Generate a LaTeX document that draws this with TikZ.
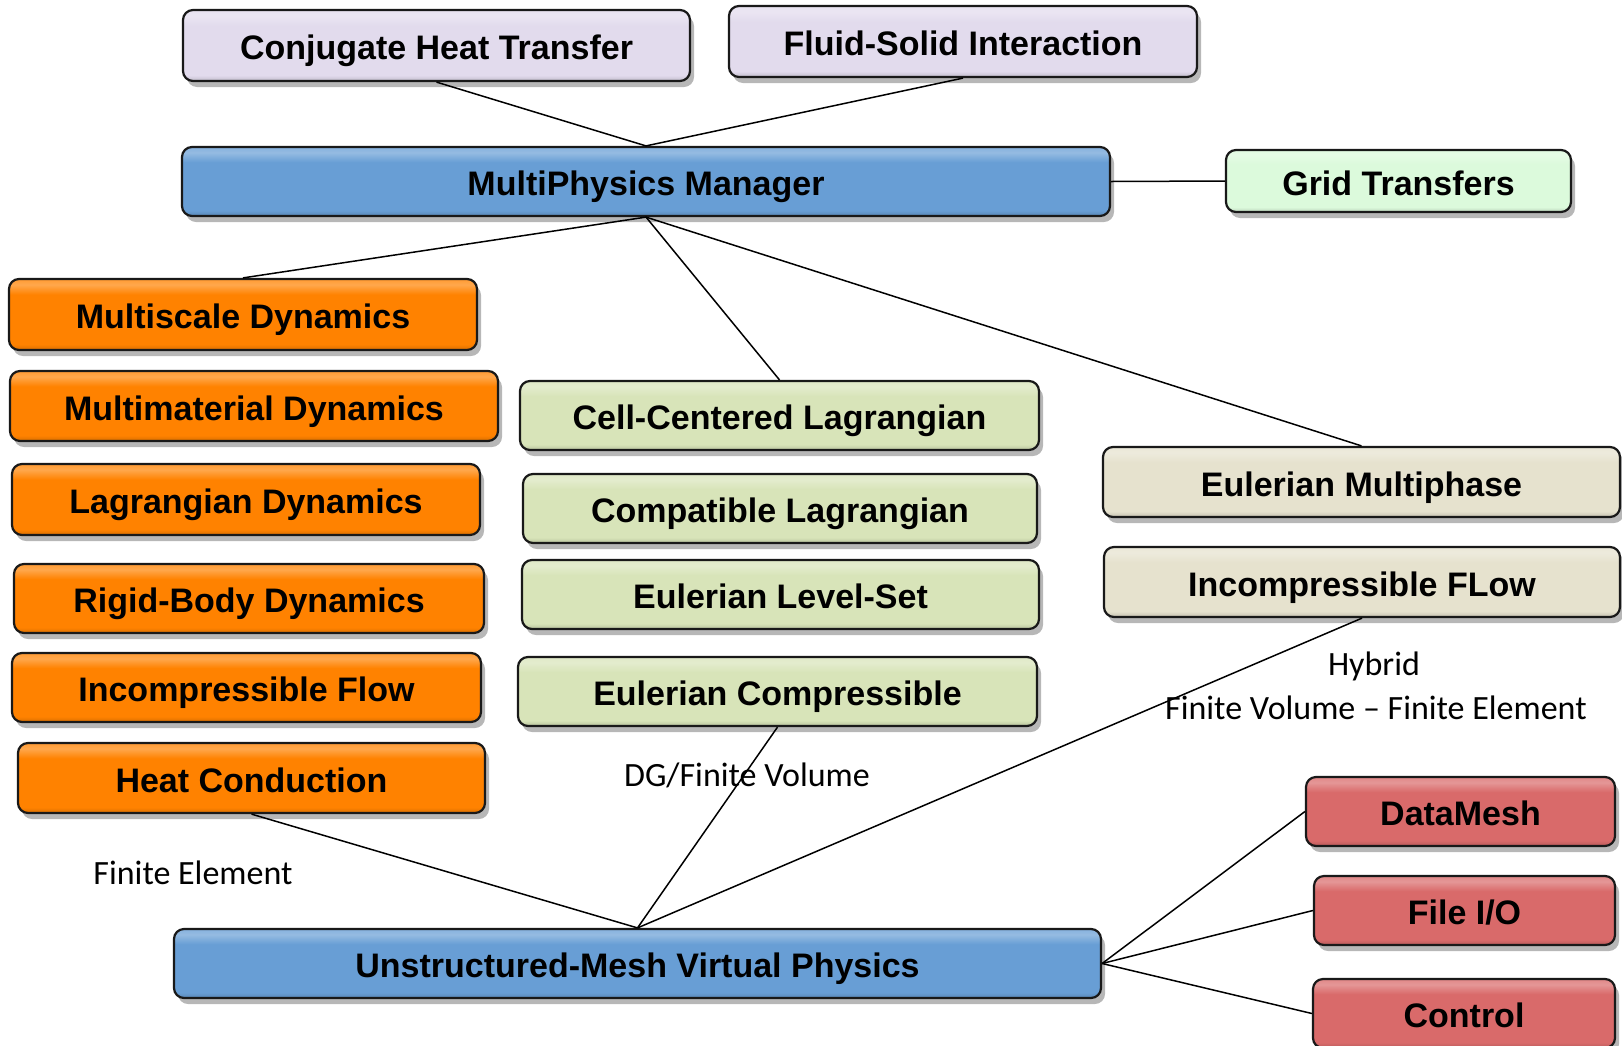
\documentclass[tikz,border=0pt]{standalone}
\usepackage{fontspec}
\setmainfont{Liberation Sans}
\newfontfamily\lblfont{Carlito}
\usetikzlibrary{shadows}
\definecolor{cblue}{RGB}{104,158,213}
\definecolor{corange}{RGB}{255,130,0}
\definecolor{clav}{RGB}{226,219,237}
\definecolor{cmint}{RGB}{220,250,220}
\definecolor{cygreen}{RGB}{216,228,185}
\definecolor{cbeige}{RGB}{230,226,206}
\definecolor{cred}{RGB}{217,106,106}
\colorlet{boxmain}{cblue}
\pgfdeclareverticalshading[boxmain]{gloss}{100bp}{%
color(0bp)=(boxmain!85!black);
color(25bp)=(boxmain!85!black);
color(29bp)=(boxmain);
color(64bp)=(boxmain);
color(71bp)=(boxmain!70!white);
color(75bp)=(boxmain!80!white);
color(100bp)=(boxmain!80!white)}
\tikzset{
  box/.style={rectangle, rounded corners=10pt, draw=black!90, line width=2.2pt,
    inner sep=0pt, align=center, font=\fontsize{34}{40}\selectfont\bfseries,
    text height=29pt, text depth=1pt,
    drop shadow={shadow xshift=4pt, shadow yshift=-6pt, opacity=0.4, fill=black!70}},
  colbox/.style={box, /utils/exec={\colorlet{boxmain}{#1}}, shading=gloss},
  lbl/.style={font=\lblfont\fontsize{34}{40}\selectfont, inner sep=0pt},
  conn/.style={line width=1.5pt, black}
}
\begin{document}
\begin{tikzpicture}[x=1pt,y=-1pt]
\useasboundingbox (0,0) rectangle (1622,1045);
\clip (0,0) rectangle (1622,1045);
% top
\node[colbox=clav, minimum width=507pt, minimum height=71pt] (cht) at (436.5,45.5) {Conjugate Heat Transfer};
\node[colbox=clav, minimum width=468pt, minimum height=71pt] (fsi) at (963,41.5) {Fluid-Solid Interaction};
\node[colbox=cblue, minimum width=928pt, minimum height=69pt] (mpm) at (646,181.5) {MultiPhysics Manager};
\node[colbox=cmint, minimum width=345pt, minimum height=62pt] (grid) at (1398.5,181) {Grid Transfers};
% left column
\node[colbox=corange, minimum width=468pt, minimum height=71pt] (msd) at (243,314.5) {Multiscale Dynamics};
\node[colbox=corange, minimum width=488pt, minimum height=70pt] (mmd) at (254,406) {Multimaterial Dynamics};
\node[colbox=corange, minimum width=468pt, minimum height=71pt] (lgd) at (246,499.5) {Lagrangian Dynamics};
\node[colbox=corange, minimum width=470pt, minimum height=69pt] (rbd) at (249,598.5) {Rigid-Body Dynamics};
\node[colbox=corange, minimum width=469pt, minimum height=69pt] (icf) at (246.5,687.5) {Incompressible Flow};
\node[colbox=corange, minimum width=467pt, minimum height=70pt] (hcd) at (251.5,778) {Heat Conduction};
% middle column
\node[colbox=cygreen, minimum width=519pt, minimum height=69pt] (ccl) at (779.5,415.5) {Cell-Centered Lagrangian};
\node[colbox=cygreen, minimum width=514pt, minimum height=69pt] (cpl) at (780,508.5) {Compatible Lagrangian};
\node[colbox=cygreen, minimum width=517pt, minimum height=69pt] (els) at (780.5,594.5) {Eulerian Level-Set};
\node[colbox=cygreen, minimum width=519pt, minimum height=69pt] (ecp) at (777.5,691.5) {Eulerian Compressible};
% right column
\node[colbox=cbeige, minimum width=517pt, minimum height=70pt] (emp) at (1361.5,482) {Eulerian Multiphase};
\node[colbox=cbeige, minimum width=516pt, minimum height=70pt] (ifl) at (1362,582) {Incompressible FLow};
\node[colbox=cred, minimum width=309pt, minimum height=69pt] (dm) at (1460.5,811.5) {DataMesh};
\node[colbox=cred, minimum width=301pt, minimum height=69pt] (fio) at (1464.5,910.5) {File I/O};
\node[colbox=cred, minimum width=302pt, minimum height=69pt] (ctl) at (1464,1013.5) {Control};
% bottom
\node[colbox=cblue, minimum width=927pt, minimum height=69pt] (umvp) at (637.5,963.5) {Unstructured-Mesh Virtual Physics};
% labels
\node[lbl] (hyb) at (1374,666) {Hybrid};
\node[lbl] (fvfe) at (1376,708) {Finite Volume – Finite Element};
\node[lbl] (dgfv) at (747,775) {DG/Finite Volume};
\node[lbl] (fe) at (193,873) {Finite Element};
% connectors
\draw[conn] (cht.south) -- (mpm.north);
\draw[conn] (fsi.south) -- (mpm.north);
\draw[conn] (mpm.east) -- (grid.west);
\draw[conn] (mpm.south) -- (msd.north);
\draw[conn] (mpm.south) -- (ccl.north);
\draw[conn] (mpm.south) -- (emp.north);
\draw[conn] (hcd.south) -- (umvp.north);
\draw[conn] (ecp.south) -- (umvp.north);
\draw[conn] (ifl.south) -- (umvp.north);
\draw[conn] (umvp.east) -- (dm.west);
\draw[conn] (umvp.east) -- (fio.west);
\draw[conn] (umvp.east) -- (ctl.west);
\end{tikzpicture}
\end{document}
